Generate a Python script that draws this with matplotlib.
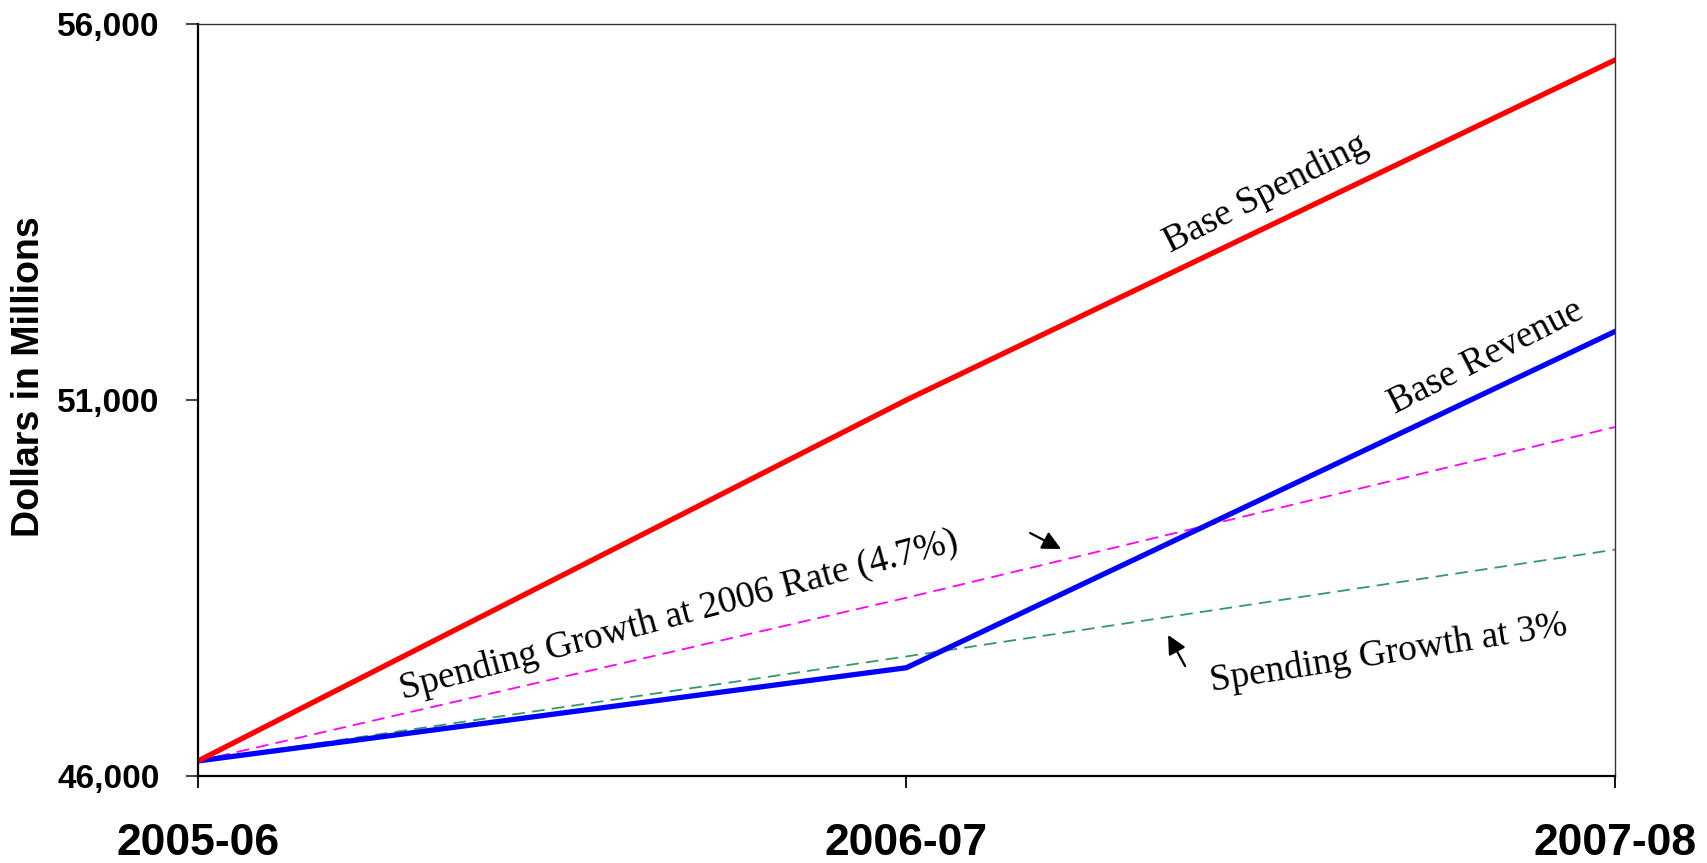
import matplotlib
matplotlib.use("Agg")
import matplotlib.pyplot as plt
from matplotlib.ticker import FuncFormatter

# Fiscal years and projected totals (dollars in millions)
years = ["2005-06", "2006-07", "2007-08"]
base_spending = [46200, 51000, 55520]
base_revenue = [46200, 47440, 51910]
growth_2006_rate = [46200, 48370, 50640]
growth_3pct = [46200, 47590, 49010]

y_ticks = [46000, 51000, 56000]

DPI = 100
fig = plt.figure(figsize=(17.07, 8.63), dpi=DPI)
ax = fig.add_axes([0.116, 0.1008, 0.830, 0.8714])

x = list(range(len(years)))

ax.plot(x, growth_3pct, color="#339966", lw=1.3, dashes=(7, 4))
ax.plot(x, growth_2006_rate, color="#FF00FF", lw=1.3, dashes=(7, 4))
ax.plot(x, base_revenue, color="#0000FF", lw=3.8)
ax.plot(x, base_spending, color="#FF0000", lw=3.8)

ax.set_xlim(0, 2)
ax.set_ylim(46000, 56000)
ax.set_xticks(x)
ax.set_xticklabels(years)
ax.set_yticks(y_ticks)
ax.yaxis.set_major_formatter(FuncFormatter(lambda v, p: f"{int(v):,}"))

sans = ["Liberation Sans", "DejaVu Sans"]
serif = ["Liberation Serif", "DejaVu Serif"]

for lab in ax.get_xticklabels():
    lab.set_fontfamily(sans)
    lab.set_fontweight("bold")
    lab.set_fontsize(32)
for lab in ax.get_yticklabels():
    lab.set_fontfamily(sans)
    lab.set_fontweight("bold")
    lab.set_fontsize(24)

ax.tick_params(axis="x", direction="out", length=8.6, width=1.3, pad=25, color="black")
ax.tick_params(axis="y", direction="out", length=8.6, width=1.3, pad=19, color="#333333")

for side in ("left", "bottom"):
    ax.spines[side].set_linewidth(1.6)
    ax.spines[side].set_color("black")
for side in ("top", "right"):
    ax.spines[side].set_linewidth(1.0)
    ax.spines[side].set_color("#333333")

fig.text(29 / 1707, 1 - 377 / 863, "Dollars in Millions", rotation=90,
         ha="center", va="center", fontfamily=sans, fontweight="bold", fontsize=27)

# Series labels set along the lines
text_kw = dict(fontfamily=serif, fontsize=27, ha="center", va="center",
               rotation_mode="anchor", color="black")
ax.text(1.508, 53739, "Base Spending", rotation=27, **text_kw)
ax.text(1.818, 51572, "Base Revenue", rotation=27, **text_kw)
ax.text(0.679, 48141, "Spending Growth at 2006 Rate (4.7%)", rotation=15, **text_kw)
ax.text(1.680, 47636, "Spending Growth at 3%", rotation=9, **text_kw)

arrow_kw = dict(arrowstyle="-|>", color="black", lw=1.6, mutation_scale=28,
                shrinkA=0, shrinkB=0)
ax.annotate("", xy=(1.2183, 49019), xytext=(1.1746, 49231), arrowprops=arrow_kw)
ax.annotate("", xy=(1.3694, 47875), xytext=(1.3934, 47463), arrowprops=arrow_kw)

fig.savefig("out.png", dpi=DPI)
